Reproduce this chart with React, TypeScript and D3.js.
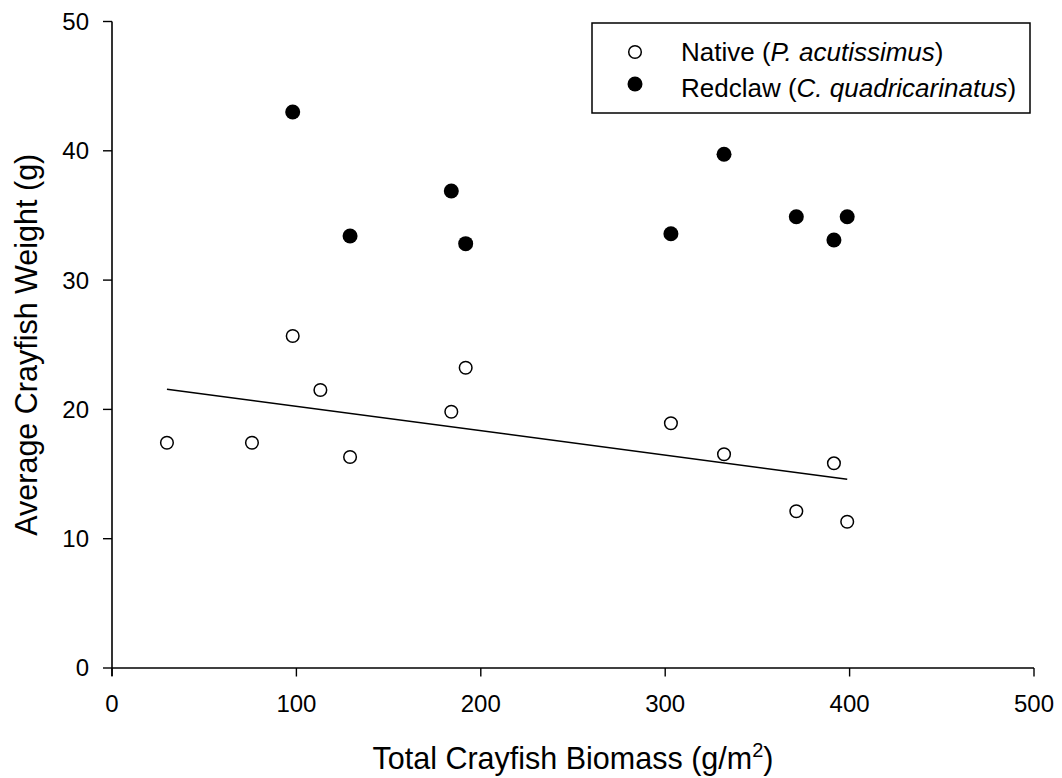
import React from "react";
import * as d3 from "d3";

const nativeX = [29.8, 75.9, 98.0, 113.0, 129.1, 184.0, 191.8, 303.1, 331.9, 391.5, 371.1, 398.7];
const nativeY = [17.42, 17.42, 25.68, 21.5, 16.32, 19.82, 23.22, 18.93, 16.53, 15.83, 12.12, 11.31];
const redclawX = [98.0, 184.0, 129.1, 191.8, 331.9, 303.1, 371.1, 398.7, 391.5];
const redclawY = [43.0, 36.89, 33.41, 32.82, 39.73, 33.59, 34.9, 34.9, 33.1];
const xTicks = [0, 100, 200, 300, 400, 500];
const yTicks = [0, 10, 20, 30, 40, 50];

const W = 1062;
const H = 778;
const FONT = "Liberation Sans, Arial, sans-serif";

export default function App() {
  const x = d3.scaleLinear().domain([0, 500]).range([112, 1034]);
  const y = d3.scaleLinear().domain([0, 50]).range([668, 21.5]);

  // least-squares fit of native data
  const n = nativeX.length;
  const mx = d3.mean(nativeX)!;
  const my = d3.mean(nativeY)!;
  let sxy = 0, sxx = 0;
  for (let i = 0; i < n; i++) {
    sxy += (nativeX[i] - mx) * (nativeY[i] - my);
    sxx += (nativeX[i] - mx) ** 2;
  }
  const slope = sxy / sxx;
  const icpt = my - slope * mx;
  const [x0, x1] = d3.extent(nativeX) as [number, number];
  const fitLine = d3.line<number>().x((d) => x(d)).y((d) => y(icpt + slope * d))([x0, x1]);

  return (
    <svg width={W} height={H} style={{ position: "absolute", left: 0, top: 0, background: "#fff" }} fontFamily={FONT}>
      <rect x={0} y={0} width={W} height={H} fill="#fff" />
      {/* axes */}
      <line x1={x(0)} x2={x(500)} y1={y(0)} y2={y(0)} stroke="#000" strokeWidth={1.6} />
      <line x1={x(0)} x2={x(0)} y1={y(0) + 8} y2={y(50)} stroke="#000" strokeWidth={1.6} />
      {xTicks.map((t) => (
        <g key={"xt" + t}>
          <line x1={x(t)} x2={x(t)} y1={y(0)} y2={y(0) + 8.5} stroke="#000" strokeWidth={1.4} />
          <text x={x(t)} y={712} textAnchor="middle" fontSize={24} fill="#000">{t}</text>
        </g>
      ))}
      {yTicks.map((t) => (
        <g key={"yt" + t}>
          <line x1={x(0) - 9} x2={x(0)} y1={y(t)} y2={y(t)} stroke="#000" strokeWidth={1.4} />
          <text x={89} y={y(t)} dy="0.35em" textAnchor="end" fontSize={24} fill="#000">{t}</text>
        </g>
      ))}
      {/* axis titles */}
      <text x={(x(0) + x(500)) / 2} y={769} textAnchor="middle" fontSize={30.5} fill="#000">
        Total Crayfish Biomass (g/m<tspan fontSize={20} dy={-12}>2</tspan><tspan dy={12}>)</tspan>
      </text>
      <text transform={`translate(37,${(y(0) + y(50)) / 2}) rotate(-90)`} textAnchor="middle" fontSize={30.5} fill="#000">
        Average Crayfish Weight (g)
      </text>
      {/* regression */}
      <path d={fitLine!} fill="none" stroke="#000" strokeWidth={1.5} />
      {/* points */}
      {nativeX.map((v, i) => (
        <circle key={"n" + i} cx={x(v)} cy={y(nativeY[i])} r={6.3} fill="#fff" stroke="#000" strokeWidth={1.5} />
      ))}
      {redclawX.map((v, i) => (
        <circle key={"r" + i} cx={x(v)} cy={y(redclawY[i])} r={7.5} fill="#000" />
      ))}
      {/* legend */}
      <rect x={592} y={23} width={438} height={90} fill="#fff" stroke="#000" strokeWidth={1.5} />
      <circle cx={635} cy={52} r={6.3} fill="#fff" stroke="#000" strokeWidth={1.5} />
      <circle cx={635} cy={84} r={7.5} fill="#000" />
      <text x={681} y={61} fontSize={26} fill="#000">
        Native (<tspan fontStyle="italic">P. acutissimus</tspan>)
      </text>
      <text x={681} y={96.5} fontSize={26} fill="#000">
        Redclaw (<tspan fontStyle="italic">C. quadricarinatus</tspan>)
      </text>
    </svg>
  );
}
